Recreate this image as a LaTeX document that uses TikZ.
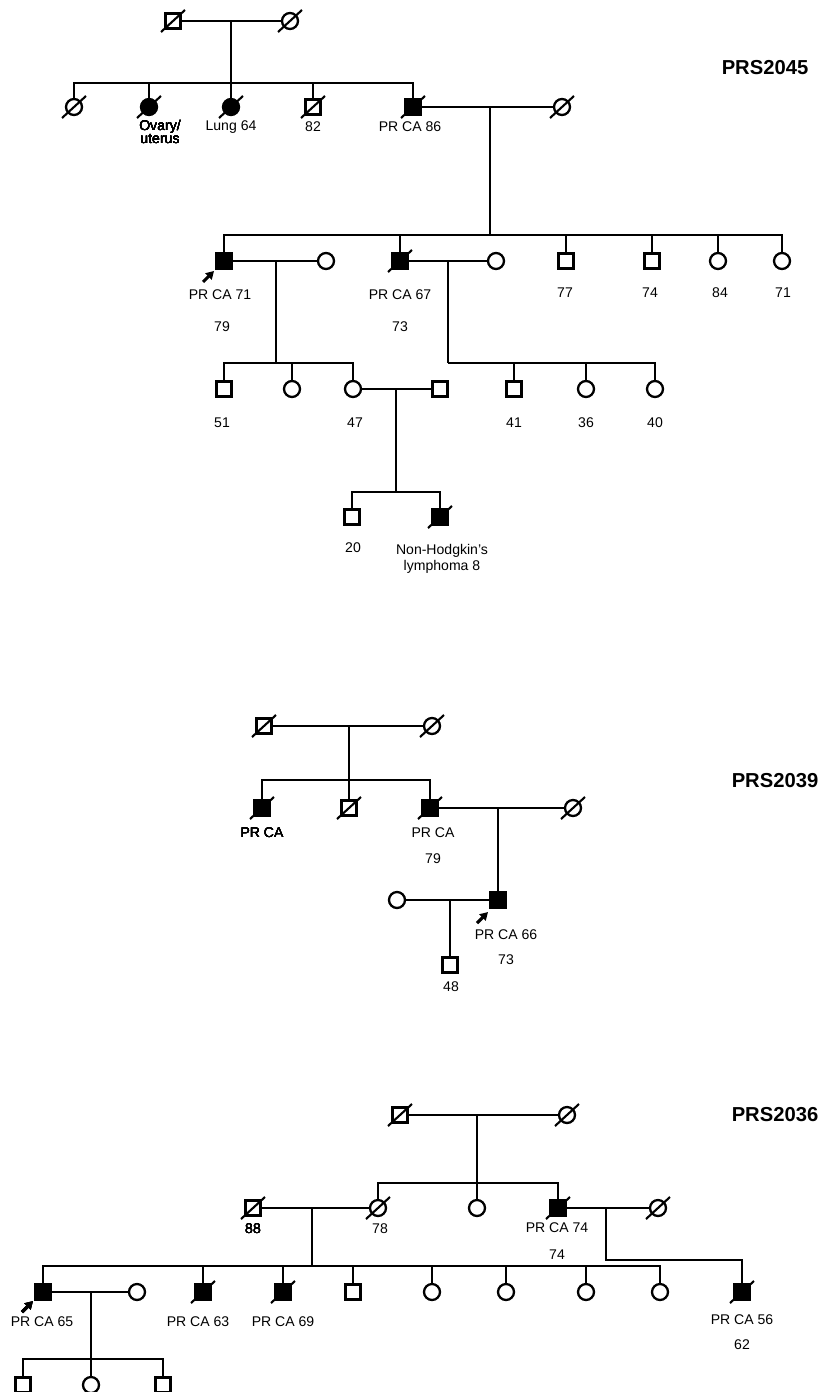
\documentclass[tikz,border=0pt]{standalone}
\usepackage{fontspec}
\setmainfont{Liberation Sans}
\usetikzlibrary{arrows.meta,calc}
\tikzset{
  rel/.style={line width=1.2pt},
  male/.style={draw,line width=1.3pt,minimum size=0.3cm,inner sep=0pt},
  female/.style={circle,draw,line width=1.3pt,minimum size=0.32cm,inner sep=0pt},
  aff/.style={fill=black},
  dec/.style={line width=1.2pt},
  lbl/.style={font=\fontsize{8}{9}\selectfont,align=center,inner sep=0pt},
  fam/.style={font=\fontsize{11.5}{13}\selectfont\bfseries,inner sep=0pt},
  prob/.style={line width=1.8pt,-{Triangle[length=4.5pt,width=5pt]}},
}
% slash through a deceased person
\newcommand{\deceased}[1]{\draw[dec] ($(#1)+(-12,11)$) -- ($(#1)+(12,-11)$);}

\begin{document}
\begin{tikzpicture}[x=0.02cm,y=-0.02cm]
    \useasboundingbox (0,0) rectangle (818,1392);
    % ---------- PRS2045 ----------
    \node[fam] (f45) at (765,68) {PRS2045};
    % generation I
    \node[male] (a1) at (173,21) {};
    \node[female] (a2) at (290,21) {};
    \coordinate (ja) at (231,21);
    \coordinate (ka) at (231,83);
    \draw[rel] (a1) -- (a2);
    \draw[rel] (ja) -- (ka);
    % generation II
    \node[female] (b1) at (74,107) {};
    \node[female,aff] (b2) at (149,107) {};
    \node[female,aff] (b3) at (231,107) {};
    \node[male] (b4) at (313,107) {};
    \node[male,aff] (b5) at (413,107) {};
    \node[female] (b6) at (562,107) {};
    \draw[rel] (b1) |- (ka) -| (b5);
    \foreach \n in {b2,b3,b4} \draw[rel] (\n) -- (\n |- ka);
    \foreach \n in {a1,a2,b1,b2,b3,b4,b5,b6} \deceased{\n}
    \node[lbl] (tb2) at (160,132) {Ovary/\\[-2pt]uterus};
    \node[lbl] (tb3) at (231,127) {Lung 64};
    \node[lbl] (tb4) at (313,127) {82};
    \node[lbl] (tb5) at (410,127) {PR CA 86};
    \coordinate (jb) at (490,107);
    \coordinate (kb) at (490,235);
    \draw[rel] (b5) -- (b6);
    \draw[rel] (jb) -- (kb);
    % generation III
    \node[male,aff] (c1) at (224,261) {};
    \node[male,aff] (c2) at (400,261) {};
    \node[male] (c3) at (566,261) {};
    \node[male] (c4) at (652,261) {};
    \node[female] (c5) at (718,261) {};
    \node[female] (c6) at (782,261) {};
    \draw[rel] (c1) |- (kb) -| (c6);
    \foreach \n in {c2,c3,c4,c5} \draw[rel] (\n) -- (\n |- kb);
    \deceased{c2}
    \draw[prob] (203,282) -- (214,271);
    \node[lbl] (tc1) at (220,295) {PR CA 71};
    \node[lbl] (tc1a) at (222,327) {79};
    \node[lbl] (tc2) at (400,295) {PR CA 67};
    \node[lbl] (tc2a) at (400,327) {73};
    \node[lbl] (tc3) at (565,293) {77};
    \node[lbl] (tc4) at (650,293) {74};
    \node[lbl] (tc5) at (720,293) {84};
    \node[lbl] (tc6) at (783,293) {71};
    \node[female] (w1) at (326,261) {};
    \node[female] (w2) at (496,261) {};
    \coordinate (jc1) at (276,261);
    \coordinate (kc1) at (276,363);
    \coordinate (jc2) at (448,261);
    \coordinate (kc2) at (448,363);
    \draw[rel] (c1) -- (w1);
    \draw[rel] (c2) -- (w2);
    \draw[rel] (jc1) -- (kc1);
    \draw[rel] (jc2) -- (kc2);
    % generation IV
    \node[male] (d1) at (224,389) {};
    \node[female] (d2) at (292,389) {};
    \node[female] (d3) at (353,389) {};
    \node[male] (d4) at (514,389) {};
    \node[female] (d5) at (586,389) {};
    \node[female] (d6) at (655,389) {};
    \node[male] (dw) at (440,389) {};
    \draw[rel] (d1) |- (kc1) -| (d3);
    \draw[rel] (d2) -- (d2 |- kc1);
    \draw[rel] (kc2) -| (d6);
    \foreach \n in {d4,d5} \draw[rel] (\n) -- (\n |- kc2);
    \node[lbl] (td1) at (222,423) {51};
    \node[lbl] (td3) at (355,423) {47};
    \node[lbl] (td4) at (514,423) {41};
    \node[lbl] (td5) at (586,423) {36};
    \node[lbl] (td6) at (655,423) {40};
    \coordinate (jd) at (396,389);
    \coordinate (kd) at (396,492);
    \draw[rel] (d3) -- (dw);
    \draw[rel] (jd) -- (kd);
    % generation V
    \node[male] (e1) at (352,517) {};
    \node[male,aff] (e2) at (440,517) {};
    \draw[rel] (e1) |- (kd) -| (e2);
    \deceased{e2}
    \node[lbl] (te1) at (353,548) {20};
    \node[lbl] (te2) at (442,559) {Non-Hodgkin's\\lymphoma 8};
    % ---------- PRS2039 ----------
    \node[fam] (f39) at (775,781) {PRS2039};
    \node[male] (g1) at (264,726) {};
    \node[female] (g2) at (432,726) {};
    \coordinate (jg) at (349,726);
    \coordinate (kg) at (349,780);
    \draw[rel] (g1) -- (g2);
    \draw[rel] (jg) -- (kg);
    \node[male,aff] (h1) at (262,808) {};
    \node[male] (h2) at (349,808) {};
    \node[male,aff] (h3) at (430,808) {};
    \node[female] (h4) at (573,808) {};
    \draw[rel] (h1) |- (kg) -| (h3);
    \draw[rel] (h2) -- (h2 |- kg);
    \foreach \n in {g1,g2,h1,h2,h3,h4} \deceased{\n}
    \node[lbl] (th1) at (262,833) {PR CA};
    \node[lbl] (th3) at (433,833) {PR CA};
    \node[lbl] (th3a) at (433,859) {79};
    \coordinate (jh) at (498,808);
    \draw[rel] (h3) -- (h4);
    \node[male,aff] (i1) at (498,900) {};
    \node[female] (i2) at (397,900) {};
    \draw[rel] (jh) -- (i1);
    \draw[rel] (i2) -- (i1);
    \draw[prob] (477,923) -- (488,912);
    \node[lbl] (ti1) at (506,935) {PR CA 66};
    \node[lbl] (ti1a) at (506,960) {73};
    \coordinate (ji) at (450,900);
    \node[male] (k1) at (450,965) {};
    \draw[rel] (ji) -- (k1);
    \node[lbl] (tk1) at (451,987) {48};
    % ---------- PRS2036 ----------
    \node[fam] (f36) at (775,1115) {PRS2036};
    \node[male] (m1) at (400,1115) {};
    \node[female] (m2) at (567,1115) {};
    \coordinate (jm) at (477,1115);
    \coordinate (km) at (477,1183);
    \draw[rel] (m1) -- (m2);
    \draw[rel] (jm) -- (km);
    \node[female] (n1) at (378,1208) {};
    \node[female] (n2) at (477,1208) {};
    \node[male,aff] (n3) at (558,1208) {};
    \node[male] (n0) at (253,1208) {};
    \node[female] (n4) at (658,1208) {};
    \draw[rel] (n1) |- (km) -| (n3);
    \draw[rel] (n2) -- (n2 |- km);
    \draw[rel] (n0) -- (n1);
    \draw[rel] (n3) -- (n4);
    \foreach \n in {m1,m2,n0,n1,n3,n4} \deceased{\n}
    \node[lbl] (tn0) at (253,1229) {88};
    \node[lbl] (tn1) at (380,1229) {78};
    \node[lbl] (tn3) at (557,1228) {PR CA 74};
    \node[lbl] (tn3a) at (557,1255) {74};
    \coordinate (jn) at (312,1208);
    \coordinate (kn) at (312,1266);
    \coordinate (jp) at (606,1208);
    \coordinate (kp) at (606,1260);
    \draw[rel] (jn) -- (kn);
    % next generation
    \node[male,aff] (o1) at (43,1292) {};
    \node[male,aff] (o2) at (203,1292) {};
    \node[male,aff] (o3) at (283,1292) {};
    \node[male] (o4) at (353,1292) {};
    \node[female] (o5) at (432,1292) {};
    \node[female] (o6) at (506,1292) {};
    \node[female] (o7) at (586,1292) {};
    \node[female] (o8) at (660,1292) {};
    \node[male,aff] (o9) at (742,1292) {};
    \draw[rel] (o1) |- (kn) -| (o8);
    \foreach \n in {o2,o3,o4,o5,o6,o7} \draw[rel] (\n) -- (\n |- kn);
    \draw[rel] (jp) -- (kp) -| (o9);
    \foreach \n in {o2,o3,o9} \deceased{\n}
    \draw[prob] (22,1312) -- (33,1301);
    \node[lbl] (to1) at (42,1322) {PR CA 65};
    \node[lbl] (to2) at (198,1322) {PR CA 63};
    \node[lbl] (to3) at (283,1322) {PR CA 69};
    \node[lbl] (to9) at (742,1320) {PR CA 56};
    \node[lbl] (to9a) at (742,1345) {62};
    \node[female] (ow) at (137,1292) {};
    \coordinate (jo) at (91,1292);
    \coordinate (ko) at (91,1359);
    \draw[rel] (o1) -- (ow);
    \draw[rel] (jo) -- (ko);
    \node[male] (q1) at (23,1385) {};
    \node[female] (q2) at (91,1385) {};
    \node[male] (q3) at (163,1385) {};
    \draw[rel] (q1) |- (ko) -| (q3);
    \draw[rel] (q2) -- (q2 |- ko);
\end{tikzpicture}
\end{document}
